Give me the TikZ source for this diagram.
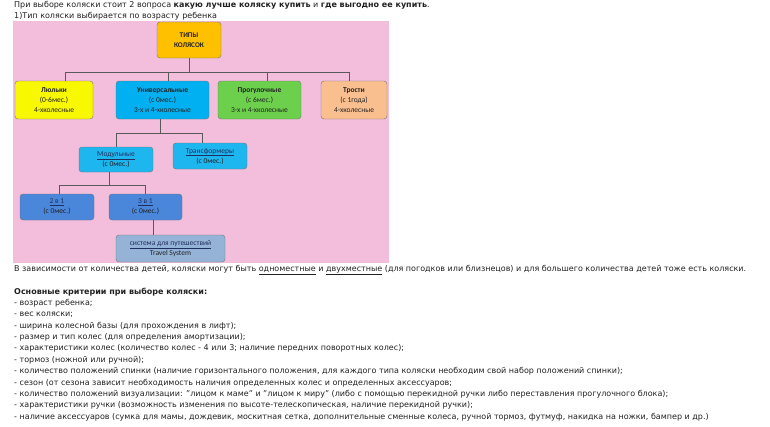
\documentclass[tikz,border=0pt]{standalone}
\usepackage{fontspec}
\setmainfont{DejaVu Sans}
\newfontfamily\boxfont{Carlito}
\usetikzlibrary{positioning}

\definecolor{pinkbg}{HTML}{F2BEDC}
\definecolor{orangebox}{HTML}{FFC000}
\definecolor{yellowbox}{HTML}{F8F800}
\definecolor{cyanbox}{HTML}{00B0F0}
\definecolor{greenbox}{HTML}{6CD04C}
\definecolor{peachbox}{HTML}{FABF8F}
\definecolor{lightcyan}{HTML}{1EB6EE}
\definecolor{bluebox}{HTML}{4A86DA}
\definecolor{steelbox}{HTML}{95B3D7}
\definecolor{textgray}{HTML}{222222}
\definecolor{linkblue}{HTML}{1F3060}

\tikzset{
	box/.style={draw=black!55, rounded corners=3pt, align=center, inner sep=0pt,
		text=textgray, font=\boxfont\fontsize{7.5}{10}\selectfont},
	conn/.style={draw=black!65, line width=0.6pt},
	line/.style={anchor=west, inner sep=0pt, text=textgray,
		font=\fontsize{8}{9}\selectfont}
}

\begin{document}
\begin{tikzpicture}[x=1pt,y=-1pt]
	\useasboundingbox (0,0) rectangle (770,426);
	\fill[white] (0,0) rectangle (770,426);
	
	% Heading lines
	\node[line] (intro) at (14,5) {При выборе коляски стоит 2 вопроса \textbf{какую лучше коляску купить} и \textbf{где выгодно ее купить}.};
	\node[line] (agetype) at (14,16) {1)Тип коляски выбирается по возрасту ребенка};
	
	% Pink background of the chart
	\fill[pinkbg] (13,21) rectangle (389,263);
	
	% Top box
	\node[box, fill=orangebox, minimum width=64pt, minimum height=36pt,
		font=\boxfont\bfseries\fontsize{7.2}{10}\selectfont] (types) at (189,40) {ТИПЫ\\КОЛЯСОК};
	
	% First level
	\node[box, fill=yellowbox, minimum width=78pt, minimum height=38pt] (cradle) at (54,100) {\textbf{Люльки}\\(0-6мес.)\\4-хколесные};
	\node[box, fill=cyanbox, minimum width=93pt, minimum height=38pt] (universal) at (162.5,100) {\textbf{Универсальные}\\(с 0мес.)\\3-х и 4-хколесные};
	\node[box, fill=greenbox, minimum width=83pt, minimum height=38pt] (stroll) at (259.5,100) {\textbf{Прогулочные}\\(с 6мес.)\\3-х и 4-хколесные};
	\node[box, fill=peachbox, minimum width=66pt, minimum height=38pt] (cane) at (354,100) {\textbf{Трости}\\(с 1года)\\4-хколесные};
	
	% Bus from top box
	\coordinate (bus1) at (189,72);
	\draw[conn] (types.south) -- (types.south |- bus1);
	\draw[conn] ([xshift=11pt]cradle.north) -- ([xshift=11pt]cradle.north |- bus1) -- ([xshift=-5pt]cane.north |- bus1) -- ([xshift=-5pt]cane.north);
	\draw[conn] ([xshift=5.5pt]universal.north) -- ([xshift=5.5pt]universal.north |- bus1);
	\draw[conn] ([xshift=7.5pt]stroll.north) -- ([xshift=7.5pt]stroll.north |- bus1);
	
	% Second level (universal)
	\node[box, fill=lightcyan, minimum width=74pt, minimum height=25pt] (modular) at (116,159.5) {\textcolor{linkblue}{\underline{Модульные}}\\(с 0мес.)};
	\node[box, fill=lightcyan, minimum width=74pt, minimum height=26pt] (transformer) at (210,156) {\textcolor{linkblue}{\underline{Трансформеры}}\\(с 0мес.)};
	
	\coordinate (bus2) at (160,133);
	\draw[conn] ([xshift=-2.5pt]universal.south) -- ([xshift=-2.5pt]universal.south |- bus2);
	\draw[conn] (modular.north) -- (modular.north |- bus2) -- ([xshift=-8pt]transformer.north |- bus2) -- ([xshift=-8pt]transformer.north);
	
	% Third level (modular)
	\node[box, fill=bluebox, minimum width=74pt, minimum height=26pt] (twoinone) at (57,207) {\textcolor{linkblue}{\underline{2 в 1}}\\(с 0мес.)};
	\node[box, fill=bluebox, minimum width=73pt, minimum height=26pt] (threeinone) at (145.5,207) {\textcolor{linkblue}{\underline{3 в 1}}\\(с 0мес.)};
	
	\coordinate (bus3) at (109,185);
	\draw[conn] ([xshift=-7pt]modular.south) -- ([xshift=-7pt]modular.south |- bus3);
	\draw[conn] ([xshift=2pt]twoinone.north) -- ([xshift=2pt]twoinone.north |- bus3) -- (threeinone.north |- bus3) -- (threeinone.north);
	
	% Travel system
	\node[box, fill=steelbox, minimum width=109pt, minimum height=27pt] (travel) at (170.5,248.5) {\textcolor{linkblue}{\underline{система для путешествий}}\\Travel System};
	\draw[conn] ([xshift=7.5pt]threeinone.south) -- ([xshift=7.5pt]threeinone.south |- travel.north);
	
	% Text under the chart
	\node[line] (seats) at (14,270) {В зависимости от количества детей, коляски могут быть \underline{одноместные} и \underline{двухместные} (для погодков или близнецов) и для большего количества детей тоже есть коляски.};
	
	% Criteria list
	\node[line] (crithead) at (14,292) {\textbf{Основные критерии при выборе коляски:}};
	\node[line] (c1) at (14,303) {- возраст ребенка;};
	\node[line] (c2) at (14,314.4) {- вес коляски;};
	\node[line] (c3) at (14,325.8) {- ширина колесной базы (для прохождения в лифт);};
	\node[line] (c4) at (14,337.2) {- размер и тип колес (для определения амортизации);};
	\node[line] (c5) at (14,348.6) {- характеристики колес (количество колес - 4 или 3; наличие передних поворотных колес);};
	\node[line] (c6) at (14,360) {- тормоз (ножной или ручной);};
	\node[line] (c7) at (14,371.4) {- количество положений спинки (наличие горизонтального положения, для каждого типа коляски необходим свой набор положений спинки);};
	\node[line] (c8) at (14,382.8) {- сезон (от сезона зависит необходимость наличия определенных колес и определенных аксессуаров;};
	\node[line] (c9) at (14,394.2) {- количество положений визуализации: "лицом к маме" и "лицом к миру" (либо с помощью перекидной ручки либо переставления прогулочного блока);};
	\node[line] (c10) at (14,405.6) {- характеристики ручки (возможность изменения по высоте-телескопическая, наличие перекидной ручки);};
	\node[line] (c11) at (14,417) {- наличие аксессуаров (сумка для мамы, дождевик, москитная сетка, дополнительные сменные колеса, ручной тормоз, футмуф, накидка на ножки, бампер и др.)};
	
\end{tikzpicture}
\end{document}
